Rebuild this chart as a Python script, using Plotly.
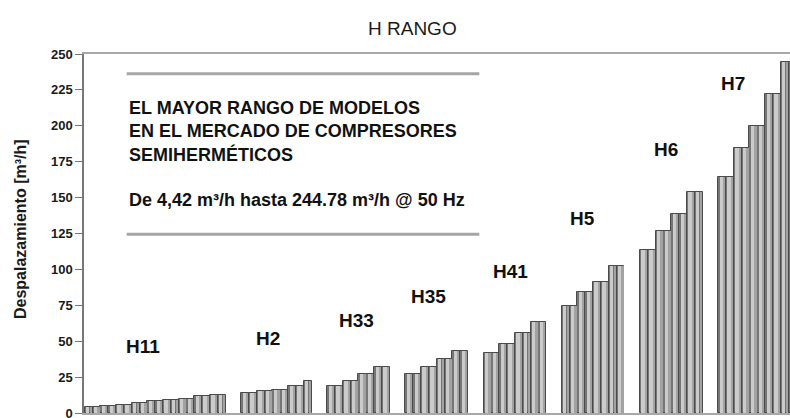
import plotly.graph_objects as go

# ---- data ----
groups = ["H11", "H2", "H33", "H35", "H41", "H5", "H6", "H7"]
h11 = [4.42, 4.42, 4.6, 4.6, 5.8, 5.8, 7.1, 7.1, 8.6, 8.6, 9.3, 9.3, 9.9, 9.9, 11.8, 11.8, 12.7, 12.7]
h2 = [14.2, 14.2, 15.0, 15.0, 16.3, 16.3, 18.5, 18.5, 22.3]
h33 = [19.0, 19.0, 22.4, 22.4, 27.0, 27.0, 31.7, 31.7]
h35 = [27.0, 27.0, 31.7, 31.7, 37.4, 37.4, 43.2, 43.2]
h41 = [42.1, 42.1, 48.2, 48.2, 55.9, 55.9, 63.1, 63.1]
h5 = [74.8, 74.8, 84.3, 84.3, 91.3, 91.3, 102.1, 102.1]
h6 = [113.7, 113.7, 126.8, 126.8, 138.4, 138.4, 153.6, 153.6]
h7 = [164.4, 164.4, 184.3, 184.3, 199.6, 199.6, 222.2, 222.2, 244.78, 244.78]
series = [h11, h2, h33, h35, h41, h5, h6, h7]
y_ticks = [0, 25, 50, 75, 100, 125, 150, 175, 200, 225, 250]

title_text = "H RANGO"
y_title = "Despalazamiento [m³/h]"
box_lines = ["EL MAYOR RANGO DE MODELOS", "EN EL MERCADO DE COMPRESORES", "SEMIHERMÉTICOS"]
box_sub = "De 4,42 m³/h hasta 244.78 m³/h @ 50 Hz"

# ---- build positions (slot index, 2 empty slots between groups) ----
GAP = 2
xs, ys = [], []
pos = 0
for vals in series:
    for v in vals:
        xs.append(pos)
        ys.append(v)
        pos += 1
    pos += GAP

FONT = "Liberation Sans, Arial, sans-serif"

fig = go.Figure()
# cylinder-like bars: dark body + lighter inner bands
fig.add_trace(go.Bar(x=xs, y=ys, width=1.0, marker=dict(color="#767676", line=dict(color="#4a4a4a", width=1)),
                     hoverinfo="skip", showlegend=False))
fig.add_trace(go.Bar(x=xs, y=ys, width=0.42, offset=-0.32, marker=dict(color="#cbcbcb", line=dict(width=0)),
                     hoverinfo="skip", showlegend=False))
fig.add_trace(go.Bar(x=xs, y=ys, width=0.22, offset=0.18, marker=dict(color="#a2a2a2", line=dict(width=0)),
                     hoverinfo="skip", showlegend=False))

W, H = 790, 418
L, R, T, B = 84, 0, 53.5, 4.5
slot = 7.82
x0 = -0.6
x1 = x0 + (W - L - R) / slot

fig.update_layout(
    width=W, height=H,
    margin=dict(l=L, r=R, t=T, b=B, autoexpand=False),
    paper_bgcolor="white", plot_bgcolor="white",
    barmode="overlay", bargap=0,
    font=dict(family=FONT, color="#1a1a1a"),
    xaxis=dict(range=[x0, x1], showticklabels=False, ticks="", showgrid=False, zeroline=False,
               showline=True, mirror=True, linecolor="#a8a8a8", linewidth=2, automargin=False),
    yaxis=dict(range=[0, 250], tickvals=y_ticks, ticks="outside", ticklen=7, tickcolor="#777777",
               tickwidth=1.2, showgrid=False, zeroline=False, showline=True, linecolor="#777777",
               linewidth=1.5, tickfont=dict(family=FONT, size=13, color="#1a1a1a", weight="bold"),
               ticklabeloverflow="allow", automargin=False),
)

# page-pixel -> paper coordinate helpers
def px(xp):
    return (xp - L) / (W - L - R)

def py(yp):
    return (H - B - yp) / (H - T - B)

# group labels (data coords)
label_pos = {"H11": (6.95, 46.1), "H2": (22.97, 52.0), "H33": (34.27, 64.2), "H35": (43.43, 81.3),
             "H41": (53.94, 98.6), "H5": (63.12, 135.6), "H6": (73.83, 183.3), "H7": (82.43, 229.2)}
for g in groups:
    gx, gy = label_pos[g]
    fig.add_annotation(x=gx, y=gy, xref="x", yref="y", text=g, showarrow=False,
                       font=dict(family=FONT, size=19, color="#111111", weight="bold"),
                       xanchor="center", yanchor="middle")

# title
fig.add_annotation(x=px(412), y=py(28), xref="paper", yref="paper", text=title_text, showarrow=False,
                   font=dict(family=FONT, size=19, color="#1a1a1a"), xanchor="center", yanchor="middle")

fig.add_annotation(x=px(20), y=py(229), xref="paper", yref="paper", text=y_title, textangle=-90,
                   showarrow=False, font=dict(family=FONT, size=16, color="#1a1a1a", weight="bold"),
                   xanchor="center", yanchor="middle")

# text box rules
for yy in (73.3, 234.3):
    fig.add_shape(type="line", xref="paper", yref="paper", x0=px(126.7), x1=px(479.3), y0=py(yy), y1=py(yy),
                  line=dict(color="#a6a6a6", width=3))

fig.add_annotation(x=px(126.5), y=py(131), xref="paper", yref="paper", text="<br>".join(box_lines),
                   showarrow=False, align="left", xanchor="left", yanchor="middle",
                   font=dict(family=FONT, size=18, color="#111111", weight="bold"))
fig.add_annotation(x=px(126.5), y=py(200), xref="paper", yref="paper", text=box_sub,
                   showarrow=False, align="left", xanchor="left", yanchor="middle",
                   font=dict(family=FONT, size=18, color="#111111", weight="bold"))

fig.write_html("out.html", config={"displayModeBar": False},
               post_script="document.body.style.margin='0';document.body.style.overflow='hidden';")
